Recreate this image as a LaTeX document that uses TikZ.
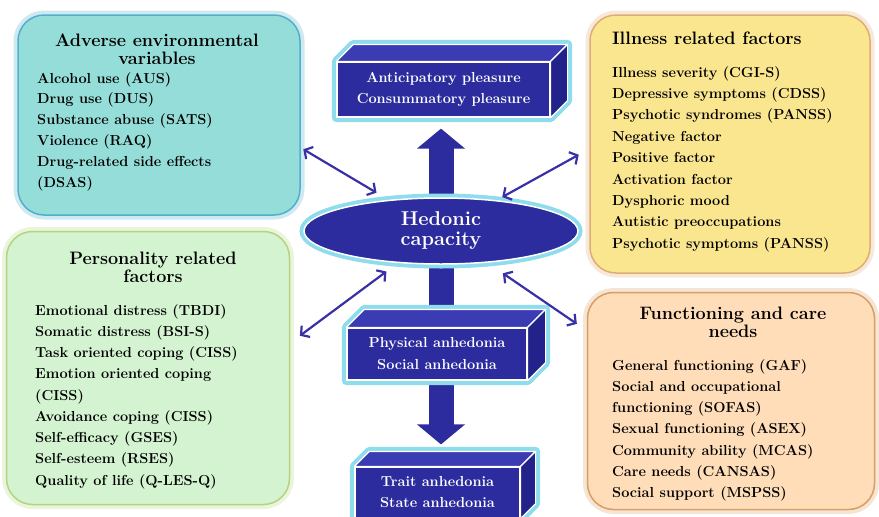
\documentclass[tikz,border=0pt]{standalone}
\usetikzlibrary{arrows.meta,backgrounds,calc,positioning,shapes.geometric}
\definecolor{navy}{HTML}{2C2C9E}
\definecolor{navytop}{HTML}{3B3BB4}
\definecolor{navyside}{HTML}{22228A}
\definecolor{glowcyan}{HTML}{8EDCEC}
\definecolor{linkblue}{HTML}{3A30A6}
\definecolor{envfill}{HTML}{95DDD8}
\definecolor{envline}{HTML}{4FB0CC}
\definecolor{persfill}{HTML}{D3F3D1}
\definecolor{persline}{HTML}{B3D57F}
\definecolor{illfill}{HTML}{FBE690}
\definecolor{illline}{HTML}{E0AC74}
\definecolor{funcfill}{HTML}{FEDDB8}
\definecolor{funcline}{HTML}{D89E64}
\tikzset{x=1pt, y=-1pt, % pixel-like units, y grows downward
factorbox/.style 2 args={rounded corners=26pt, line width=1.5pt, draw=#2, fill=#1,
  preaction={draw=#2!45, line width=9pt, opacity=.6}}, % coloured boxes with a soft rim
item/.style={anchor=base west, inner sep=0, font=\bfseries\fontsize{14.5}{17}\selectfont},
title/.style={anchor=north, inner sep=0, align=center, font=\bfseries\fontsize{18}{18}\selectfont},
block/.style={fill=navy, draw=white, line width=1.2pt, text=white, align=center, inner sep=0,
  font=\bfseries\fontsize{14.5}{21}\selectfont}, % front face of a 3d block
bigarrow/.style={navy, line width=25pt, -{Triangle[length=20pt,width=47pt]}},
link/.style={linkblue, line width=2.2pt, {Straight Barb[length=6pt,width=14pt]}-{Straight Barb[length=6pt,width=14pt]}},
}
\begin{document}
\begin{tikzpicture}
\useasboundingbox (0,0) rectangle (879,517);
% the four groups of factors
\node[factorbox={envfill}{envline}, minimum width=282pt, minimum height=200pt] (envbox) at (159,115) {};
\node[factorbox={persfill}{persline}, minimum width=283pt, minimum height=273pt] (persbox) at (148,368) {};
\node[factorbox={illfill}{illline}, minimum width=280pt, minimum height=258pt] (illbox) at (730,144) {};
\node[factorbox={funcfill}{funcline}, minimum width=287pt, minimum height=217pt] (funcbox) at (731,401) {};

\node[title] (envtitle) at (157,33.5) {Adverse environmental\\variables};
\node[title] (perstitle) at (153,251.5) {Personality related\\factors};
\node[title, anchor=north west] (illtitle) at (612,31.5) {Illness related factors};
\node[title] (functitle) at (733,306.5) {Functioning and care\\needs};

\foreach \t [count=\i] in {Alcohol use (AUS), Drug use (DUS), Substance abuse (SATS), Violence (RAQ),
  Drug-related side effects, (DSAS)}
  \node[item] (env\i) at (37,{83+20.8*(\i-1)}) {\t};
\foreach \t [count=\i] in {Emotional distress (TBDI), Somatic distress (BSI-S), Task oriented coping (CISS),
  Emotion oriented coping, (CISS), Avoidance coping (CISS), Self-efficacy (GSES), Self-esteem (RSES),
  Quality of life (Q-LES-Q)}
  \node[item] (pers\i) at (35,{315+21.25*(\i-1)}) {\t};
\foreach \t [count=\i] in {Illness severity (CGI-S), Depressive symptoms (CDSS), Psychotic syndromes (PANSS),
  Negative factor, Positive factor, Activation factor, Dysphoric mood, Autistic preoccupations,
  Psychotic symptoms (PANSS)}
  \node[item] (ill\i) at (612,{77+21.4*(\i-1)}) {\t};
\foreach \t [count=\i] in {General functioning (GAF), Social and occupational, functioning (SOFAS),
  Sexual functioning (ASEX), Community ability (MCAS), Care needs (CANSAS), Social support (MSPSS)}
  \node[item] (func\i) at (612,{370+21.3*(\i-1)}) {\t};

% centre column
\node[ellipse, minimum width=274pt, minimum height=66pt, fill=navy, draw=white, line width=1.5pt,
  preaction={draw=glowcyan, line width=9pt}, text=white, align=center, inner sep=0,
  font=\bfseries\fontsize{20}{20}\selectfont] (hedonic) at (441,231) {Hedonic\\capacity};
\node[block, minimum width=213pt, minimum height=55pt] (antic) at (443.5,89.5) {Anticipatory pleasure\\Consummatory pleasure};
\node[block, minimum width=180pt, minimum height=52pt, font=\bfseries\fontsize{14.5}{22}\selectfont] (phys) at (437,354) {Physical anhedonia\\Social anhedonia};
\node[block, minimum width=165pt, minimum height=51pt] (trait) at (437.5,492.5) {Trait anhedonia\\State anhedonia};
\foreach \b/\d in {antic/17, phys/18, trait/15} {
  \filldraw[fill=navytop, draw=white, line width=1.2pt, line join=round] (\b.north west) -- ++(\d,-\d)
    -- ($(\b.north east)+(\d,-\d)$) -- (\b.north east) -- cycle;
  \filldraw[fill=navyside, draw=white, line width=1.2pt, line join=round] (\b.north east) -- ++(\d,-\d)
    -- ($(\b.south east)+(\d,-\d)$) -- (\b.south east) -- cycle;
}

\begin{pgfonlayer}{background}
\draw[bigarrow, shorten >=11pt] (hedonic.center) -- (hedonic.center |- antic.south);
\draw[bigarrow, shorten >=22pt] (hedonic.center) -- (hedonic.center |- trait.north);
\foreach \b/\d in {antic/17, phys/18, trait/15}
  \draw[glowcyan, line width=9pt, line join=round] (\b.south west) -- (\b.north west) -- ++(\d,-\d)
    -- ($(\b.north east)+(\d,-\d)$) -- ($(\b.south east)+(\d,-\d)$) -- (\b.south east) -- cycle;
\end{pgfonlayer}

% links between hedonic capacity and the factors
\draw[link, shorten <=3pt, shorten >=75pt] (envbox.-13) -- (hedonic.center);
\draw[link, shorten <=12pt, shorten >=70pt] (illbox.182) -- (hedonic.center);
\draw[link, shorten <=12pt, shorten >=68pt] (persbox.10) -- (hedonic.center);
\draw[link, shorten <=12pt, shorten >=75pt] (funcbox.154) -- (hedonic.center);
\end{tikzpicture}
\end{document}
